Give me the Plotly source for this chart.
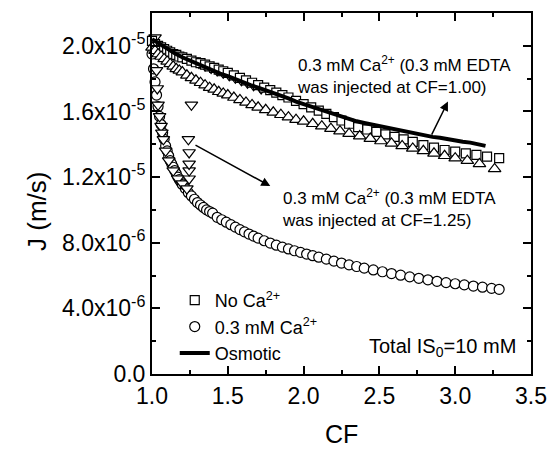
import plotly.graph_objects as go

# ---------------- data (J in units of 1e-6 m/s) ----------------
cf_no_ca = [1.00, 1.02, 1.04, 1.06, 1.08, 1.10, 1.12, 1.14, 1.16, 1.18, 1.20, 1.23, 1.26, 1.29,
            1.32, 1.35, 1.38, 1.41, 1.44, 1.47, 1.50, 1.54, 1.58, 1.62, 1.66, 1.70, 1.74, 1.78,
            1.82, 1.86, 1.90, 1.95, 2.00, 2.05, 2.10, 2.15, 2.20, 2.25, 2.30, 2.36, 2.42, 2.48,
            2.54, 2.60, 2.66, 2.72, 2.79, 2.86, 2.93, 3.00, 3.07, 3.14, 3.21, 3.29]
j_no_ca = [20.3, 20.1, 20.0, 19.9, 19.8, 19.7, 19.6, 19.5, 19.45, 19.35, 19.3, 19.2, 19.1, 19.0,
           18.95, 18.85, 18.75, 18.65, 18.55, 18.45, 18.35, 18.2, 18.05, 17.9, 17.75, 17.6, 17.45, 17.3,
           17.15, 17.0, 16.85, 16.65, 16.45, 16.25, 16.05, 15.85, 15.65, 15.45, 15.25, 15.05, 14.9, 14.75,
           14.6, 14.45, 14.3, 14.15, 13.95, 13.8, 13.65, 13.55, 13.45, 13.35, 13.25, 13.15]

cf_ca = [1.00, 1.01, 1.02, 1.03, 1.04, 1.05, 1.06, 1.07, 1.08, 1.09, 1.10, 1.11, 1.12, 1.13, 1.14,
         1.15, 1.16, 1.17, 1.18, 1.19, 1.20, 1.22, 1.24, 1.26, 1.28, 1.30, 1.32, 1.34, 1.36, 1.38,
         1.40, 1.43, 1.46, 1.49, 1.52, 1.55, 1.58, 1.61, 1.64, 1.67, 1.70, 1.74, 1.78, 1.82, 1.86,
         1.90, 1.94, 1.98, 2.02, 2.06, 2.10, 2.15, 2.20, 2.25, 2.30, 2.35, 2.40, 2.46, 2.52, 2.58,
         2.64, 2.70, 2.76, 2.82, 2.88, 2.94, 3.00, 3.06, 3.12, 3.18, 3.24, 3.29]
j_ca = [19.5, 18.6, 17.8, 17.0, 16.3, 15.7, 15.2, 14.7, 14.3, 13.9, 13.6, 13.3, 13.0, 12.8, 12.6,
        12.4, 12.2, 12.0, 11.85, 11.7, 11.55, 11.3, 11.05, 10.85, 10.65, 10.45, 10.3, 10.15, 10.0, 9.9,
        9.8, 9.55, 9.4, 9.25, 9.1, 8.95, 8.8, 8.66, 8.53, 8.4, 8.28, 8.12, 7.98, 7.85, 7.73,
        7.62, 7.51, 7.41, 7.31, 7.21, 7.12, 7.0, 6.88, 6.76, 6.65, 6.55, 6.45, 6.34, 6.23, 6.12,
        6.02, 5.92, 5.83, 5.74, 5.65, 5.57, 5.5, 5.43, 5.36, 5.29, 5.22, 5.16]

cf_osm = [1.00, 1.05, 1.10, 1.15, 1.20, 1.25, 1.30, 1.35, 1.40, 1.45, 1.50, 1.55, 1.60, 1.65, 1.70,
          1.75, 1.80, 1.85, 1.90, 1.95, 2.00, 2.05, 2.10, 2.15, 2.20, 2.25, 2.30, 2.35, 2.40, 2.45,
          2.50, 2.55, 2.60, 2.65, 2.70, 2.75, 2.80, 2.85, 2.90, 2.95, 3.00, 3.05, 3.10, 3.15, 3.20]
j_osm = [20.4, 20.1, 19.8, 19.55, 19.3, 19.1, 18.85, 18.7, 18.5, 18.3, 18.15, 17.95, 17.8, 17.6, 17.45,
         17.3, 17.1, 16.95, 16.8, 16.6, 16.45, 16.25, 16.1, 15.95, 15.8, 15.65, 15.5, 15.4, 15.3, 15.2,
         15.1, 15.0, 14.9, 14.8, 14.7, 14.6, 14.55, 14.45, 14.4, 14.3, 14.25, 14.15, 14.1, 14.0, 13.9]

cf_edta100 = [1.00, 1.02, 1.04, 1.06, 1.08, 1.10, 1.12, 1.14, 1.16, 1.18, 1.20, 1.23, 1.26, 1.29,
              1.32, 1.35, 1.38, 1.41, 1.44, 1.47, 1.50, 1.54, 1.58, 1.62, 1.66, 1.70, 1.75, 1.80,
              1.85, 1.90, 1.95, 2.00, 2.06, 2.12, 2.18, 2.24, 2.30, 2.37, 2.44, 2.51, 2.58, 2.65,
              2.72, 2.79, 2.86, 2.93, 3.00, 3.08, 3.16, 3.26]
j_edta100 = [19.9, 19.7, 19.5, 19.35, 19.2, 19.05, 18.9, 18.75, 18.6, 18.5, 18.4, 18.2, 18.05, 17.9,
             17.75, 17.6, 17.45, 17.35, 17.2, 17.1, 17.0, 16.85, 16.7, 16.55, 16.4, 16.25, 16.1, 15.95,
             15.8, 15.65, 15.5, 15.4, 15.25, 15.1, 14.95, 14.8, 14.65, 14.5, 14.35, 14.2, 14.05, 13.9,
             13.75, 13.6, 13.45, 13.3, 13.15, 13.0, 12.8, 12.5]

cf_edta125 = [1.02, 1.03, 1.035, 1.04, 1.05, 1.06, 1.065, 1.075, 1.09, 1.11, 1.14, 1.17, 1.20, 1.23,
              1.245, 1.245, 1.245, 1.245, 1.24, 1.26, 1.27, 1.31, 1.35, 1.39, 1.43, 1.47, 1.51, 1.55,
              1.59, 1.63, 1.67, 1.72]
j_edta125 = [20.5, 18.5, 17.4, 16.4, 15.7, 15.1, 14.7, 14.3, 13.6, 13.0, 12.4, 11.9, 11.6, 11.3,
             11.9, 12.4, 12.8, 13.5, 14.3, 16.4, 19.1, 18.95, 18.8, 18.65, 18.5, 18.35, 18.2, 18.05,
             17.9, 17.75, 17.6, 17.4]

y_tickvals = [0, 4e-6, 8e-6, 1.2e-5, 1.6e-5, 2.0e-5]
y_ticktext = ["0.0", "4.0x10<sup>-6</sup>", "8.0x10<sup>-6</sup>", "1.2x10<sup>-5</sup>",
              "1.6x10<sup>-5</sup>", "2.0x10<sup>-5</sup>"]

SCALE = 1e-6
FONT = "Liberation Sans, Arial, sans-serif"


def sc(v):
    return [x * SCALE for x in v]


mk = dict(color="white", line=dict(color="black", width=1.2))

fig = go.Figure()
fig.add_trace(go.Scatter(x=cf_ca, y=sc(j_ca), mode="markers", name="0.3 mM Ca<sup>2+</sup>",
                         marker=dict(symbol="circle", size=10, **mk), cliponaxis=False,
                         legendgroup="b", legendrank=2))
fig.add_trace(go.Scatter(x=cf_edta125, y=sc(j_edta125), mode="markers", showlegend=False,
                         marker=dict(symbol="triangle-down", size=11, **mk), cliponaxis=False))
fig.add_trace(go.Scatter(x=cf_no_ca, y=sc(j_no_ca), mode="markers", name="No Ca<sup>2+</sup>",
                         marker=dict(symbol="square", size=9, **mk), cliponaxis=False,
                         legendgroup="a", legendrank=1))
fig.add_trace(go.Scatter(x=cf_edta100, y=sc(j_edta100), mode="markers", showlegend=False,
                         marker=dict(symbol="triangle-up", size=11, **mk), cliponaxis=False))
fig.add_trace(go.Scatter(x=cf_osm, y=sc(j_osm), mode="lines", name="Osmotic",
                         line=dict(color="black", width=4), legendgroup="c", legendrank=3))

axis_common = dict(showline=True, linecolor="black", linewidth=2, mirror="allticks",
                   ticks="inside", ticklen=8, tickwidth=2, tickcolor="black",
                   showgrid=False, zeroline=False,
                   tickfont=dict(family=FONT, size=23, color="black"))

fig.update_xaxes(range=[1.0, 3.5], tickmode="linear", tick0=1.0, dtick=0.5, tickformat=".1f",
                 minor=dict(ticks="inside", ticklen=4, tickwidth=2, tickcolor="black",
                            tickmode="linear", tick0=1.0, dtick=0.25),
                 **axis_common)
fig.update_yaxes(range=[0, 2.2e-5], tickmode="array", tickvals=y_tickvals, ticktext=y_ticktext,
                 minor=dict(ticks="inside", ticklen=4, tickwidth=2, tickcolor="black",
                            tickmode="linear", tick0=0, dtick=2e-6),
                 **axis_common)

ann_font = dict(family=FONT, size=17, color="black")
annotations = [
    dict(x=1.94, y=18.25e-6, xref="x", yref="y", xanchor="left", yanchor="middle", align="left",
         text="0.3 mM Ca<sup>2+</sup> (0.3 mM EDTA<br>was injected at CF=1.00)",
         showarrow=False, font=ann_font),
    dict(x=1.844, y=10.1e-6, xref="x", yref="y", xanchor="left", yanchor="middle", align="left",
         text="0.3 mM Ca<sup>2+</sup> (0.3 mM EDTA<br>was injected at CF=1.25)",
         showarrow=False, font=ann_font),
    dict(x=2.952, y=16.6e-6, ax=2.84, ay=14.5e-6, xref="x", yref="y", axref="x", ayref="y",
         text="", showarrow=True, arrowhead=2, arrowsize=1.2, arrowwidth=1.5, arrowcolor="black"),
    dict(x=1.78, y=11.45e-6, ax=1.277, ay=14.0e-6, xref="x", yref="y", axref="x", ayref="y",
         text="", showarrow=True, arrowhead=2, arrowsize=1.2, arrowwidth=1.5, arrowcolor="black"),
    dict(x=0.9665, y=0.074, xref="paper", yref="paper", xanchor="right", yanchor="middle",
         text="Total IS<sub>0</sub>=10 mM", showarrow=False,
         font=dict(family=FONT, size=20, color="black")),
    dict(x=-0.305, y=0.45, xref="paper", yref="paper", xanchor="center", yanchor="middle",
         text="J (m/s)", textangle=-90, showarrow=False,
         font=dict(family=FONT, size=26, color="black")),
    dict(x=0.5, y=-0.165, xref="paper", yref="paper", xanchor="center", yanchor="middle",
         text="CF", showarrow=False, font=dict(family=FONT, size=25, color="black")),
]

fig.update_layout(
    width=558, height=450,
    margin=dict(l=152, r=18, t=11, b=76, pad=0),
    paper_bgcolor="white", plot_bgcolor="white",
    font=dict(family=FONT, color="black"),
    annotations=annotations,
    legend=dict(x=0.06, y=0.255, xanchor="left", yanchor="top", traceorder="normal",
                bgcolor="rgba(0,0,0,0)", borderwidth=0, tracegroupgap=0,
                font=dict(family=FONT, size=18, color="black")),
)

fig.write_html("out.html")
